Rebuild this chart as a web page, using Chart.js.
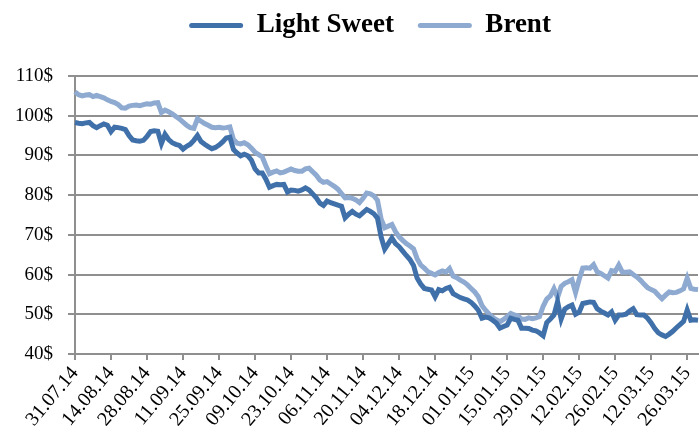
<!DOCTYPE html>
<html>
<head>
<meta charset="utf-8">
<script src="https://cdn.jsdelivr.net/npm/chart.js@4"></script>
<style>
  body { margin: 0; background: #fff; }
  #wrap { width: 699px; height: 440px; overflow: hidden; }
  #box { width: 740px; height: 440px; }
</style>
</head>
<body>
<div id="wrap"><div id="box"><canvas id="myChart"></canvas></div></div>
<script>
// every 10th trading day gets a label
const tickLabels = ['31.07.14', '14.08.14', '28.08.14', '11.09.14', '25.09.14', '09.10.14',
    '23.10.14', '06.11.14', '20.11.14', '04.12.14', '18.12.14', '01.01.15', '15.01.15',
    '29.01.15', '12.02.15', '26.02.15', '12.03.15', '26.03.15'];

const lightSweet = [
    98.3, 98.1, 98.0, 98.2, 98.3, 97.5, 97.0, 97.5, 97.9, 97.6,
    96.0, 97.1, 97.0, 96.8, 96.5, 95.0, 93.9, 93.7, 93.6, 93.8,
    94.8, 96.0, 96.2, 96.1, 93.0, 95.3, 94.0, 93.2, 92.8, 92.5,
    91.6, 92.3, 92.8, 93.8, 95.0, 93.5, 92.8, 92.2, 91.7, 92.0,
    92.6, 93.4, 94.4, 94.6, 91.5, 90.6, 89.9, 90.3, 89.9, 88.8,
    86.6, 85.6, 85.6, 84.0, 82.0, 82.4, 82.7, 82.6, 82.7, 80.8,
    81.3, 81.2, 81.0, 81.3, 81.8, 81.3, 80.3, 79.3, 78.0, 77.4,
    78.5, 78.1, 77.8, 77.5, 77.2, 74.3, 75.2, 75.9, 75.2, 74.8,
    75.6, 76.4, 75.9, 75.3, 74.2, 69.5, 66.4, 67.8, 69.2, 67.8,
    67.0, 65.9, 64.8, 63.8, 62.3, 59.1, 57.6, 56.5, 56.3, 56.1,
    54.4, 56.2, 55.9, 56.5, 56.8, 55.2, 54.7, 54.2, 53.9, 53.6,
    53.0, 52.1, 51.0, 49.0, 49.3, 49.1, 48.5, 47.8, 46.5, 46.9,
    47.3, 49.0, 48.7, 48.5, 46.5, 46.5, 46.4, 46.0, 45.8, 45.3,
    44.6, 47.9, 48.8, 49.8, 53.2, 48.8, 51.3, 51.9, 52.3, 50.0,
    50.5, 52.7, 52.9, 53.1, 53.0, 51.4, 50.8, 50.3, 49.8, 50.6,
    48.5, 49.8, 49.8, 50.0, 50.8, 51.4, 49.9, 49.8, 49.8, 49.0,
    47.8, 46.4, 45.3, 44.8, 44.4, 45.0, 45.7, 46.6, 47.4, 48.2,
    51.1, 48.5, 48.6, 48.5
];

const brent = [
    106.0, 105.3, 105.0, 105.2, 105.3, 104.8, 105.1, 104.8, 104.5, 104.0,
    103.6, 103.3, 102.8, 102.0, 101.9, 102.4, 102.6, 102.7, 102.5, 102.8,
    103.0, 102.9, 103.2, 103.3, 100.8, 101.4, 101.0, 100.5, 99.8, 99.2,
    98.4, 97.6, 97.0, 96.8, 99.2, 98.6, 98.0, 97.6, 97.1, 97.0,
    97.1, 96.9, 97.0, 97.2, 94.0, 93.1, 92.9, 93.2, 92.7, 91.8,
    90.8, 90.2, 89.6, 87.4, 85.4, 85.8, 86.1, 85.6, 85.8, 86.2,
    86.6, 86.2, 86.0, 86.0, 86.6, 86.8, 85.9, 85.0, 83.8, 83.2,
    83.4, 82.8, 82.2, 81.5, 80.4, 79.3, 79.4, 79.2, 78.8, 78.1,
    79.2, 80.5, 80.3, 79.8, 78.7, 74.0, 71.8, 72.2, 72.6, 70.8,
    69.5, 68.6, 67.8, 67.2, 66.5, 64.0, 62.4, 61.6, 60.7, 60.3,
    59.9, 60.5, 60.9, 60.6, 61.5, 59.6, 59.2, 58.6, 58.1, 57.4,
    56.5, 55.6, 54.4, 52.2, 51.0, 50.0, 49.2, 48.6, 48.1, 48.7,
    49.4, 50.2, 49.8, 49.6, 48.8, 48.7, 49.1, 48.9, 49.1, 49.4,
    52.0, 53.8, 54.6, 56.4, 54.2, 57.0, 57.8, 58.2, 58.7, 55.5,
    58.8, 61.6, 61.7, 61.6, 62.5, 60.7, 60.3, 59.7, 59.1, 61.0,
    60.8, 62.4, 60.6, 60.6, 60.7, 60.0, 59.4, 58.6, 57.6, 56.7,
    56.2, 55.8, 54.8, 53.9, 54.8, 55.6, 55.4, 55.5, 55.9, 56.4,
    59.1, 56.5, 56.3, 56.2
];

// one category per trading day
let days = [];
for (let i = 0; i < lightSweet.length; i++) {
    days.push(i % 10 === 0 ? tickLabels[i / 10] : '');
}

const gridGray = '#8f8f8f';
const serif = 'Liberation Serif';

// legend sits a bit right of centre and above the plot, like the original
const legendNudge = {
    id: 'legendNudge',
    beforeInit(chart) {
        const fit = chart.legend.fit;
        chart.legend.fit = function () {
            fit.call(this);
            this.height = 76;
        };
    },
    afterLayout(chart) {
        const lg = chart.legend;
        lg.left += 21; lg.right += 21;
        lg.top -= 12; lg.bottom -= 12;
    }
};

const ctx = document.getElementById('myChart');

new Chart(ctx, {
    type: 'line',
    data: {
        labels: days,
        datasets: [{
            label: 'Light Sweet',
            data: lightSweet,
            borderColor: '#4070a9',
            backgroundColor: '#4070a9',
            borderWidth: 5,
            pointRadius: 0,
            tension: 0
        }, {
            label: 'Brent',
            data: brent,
            borderColor: '#8eaad1',
            backgroundColor: '#8eaad1',
            borderWidth: 5,
            pointRadius: 0,
            tension: 0
        }]
    },
    plugins: [legendNudge],
    options: {
        responsive: true,
        maintainAspectRatio: false,
        animation: false,
        layout: {
            padding: { left: 0, right: 42, top: 0, bottom: 7 }
        },
        plugins: {
            tooltip: { enabled: false },
            legend: {
                position: 'top',
                labels: {
                    boxWidth: 54,
                    boxHeight: 5,
                    padding: 24,
                    color: '#000',
                    useBorderRadius: true,
                    borderRadius: 2.5,
                    font: { family: serif, size: 27, weight: 'bold' },
                    generateLabels: chart =>
                        Chart.defaults.plugins.legend.labels.generateLabels(chart)
                            .map(l => ({ ...l, lineWidth: 0 }))
                }
            }
        },
        scales: {
            x: {
                offset: false,
                border: { color: gridGray, width: 2 },
                grid: {
                    drawOnChartArea: false,
                    tickLength: 6,
                    lineWidth: 2,
                    color: c => (c.index % 10 === 0 ? gridGray : 'rgba(0,0,0,0)')
                },
                ticks: {
                    autoSkip: false,
                    minRotation: 50,
                    maxRotation: 50,
                    padding: 2,
                    color: '#000',
                    font: { family: serif, size: 20 }
                }
            },
            y: {
                min: 40,
                max: 110,
                border: { color: gridGray, width: 2 },
                grid: { color: gridGray, lineWidth: 2, tickLength: 7 },
                ticks: {
                    stepSize: 10,
                    padding: 15,
                    color: '#000',
                    font: { family: serif, size: 19 },
                    callback: v => v + '$'
                }
            }
        }
    }
});
</script>
</body>
</html>
